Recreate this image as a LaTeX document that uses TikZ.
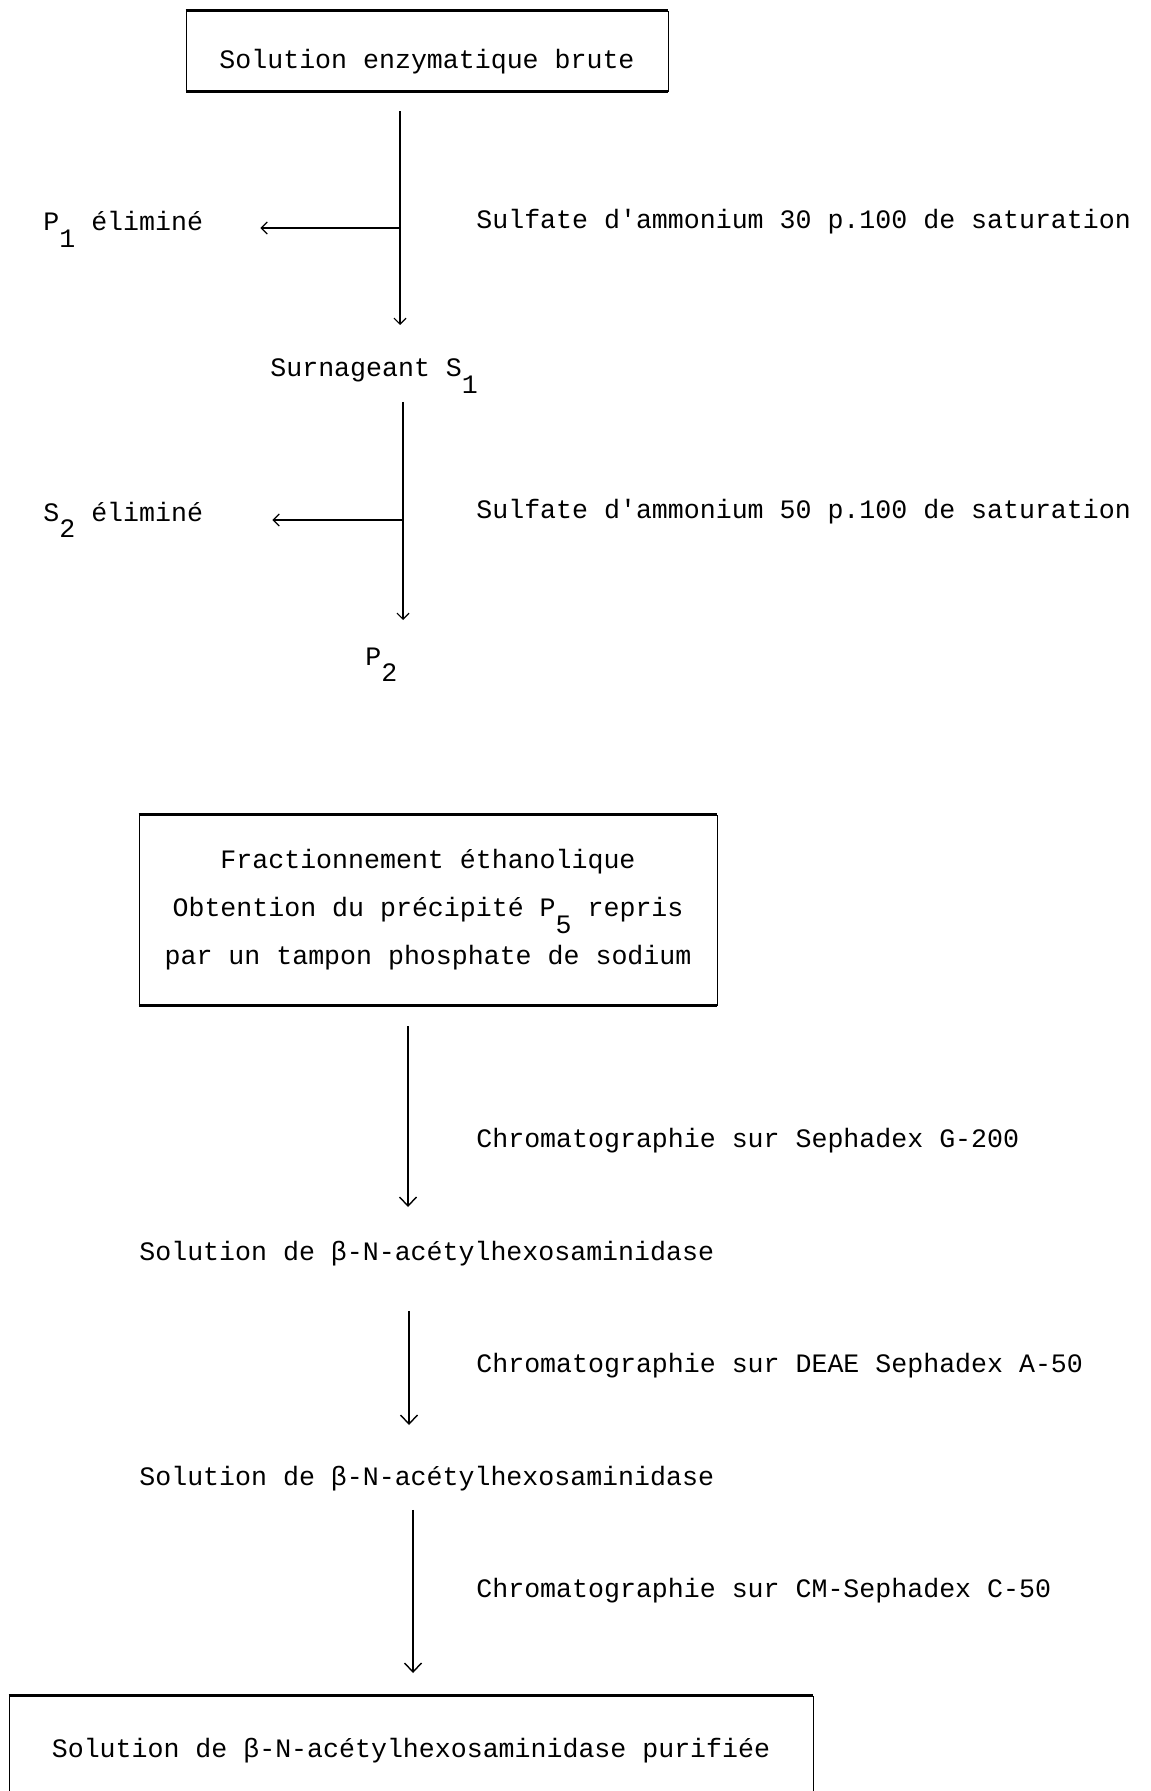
\documentclass[tikz,border=0pt]{standalone}
\usepackage{fontspec}
\newfontfamily\machine{Liberation Mono}
\usetikzlibrary{arrows.meta}
\newcommand\bas[1]{\raisebox{-0.62em}{#1}}

\begin{document}
\begin{tikzpicture}[x=0.5pt, y=-0.5pt,
                    every node/.style={font=\machine\fontsize{13.3pt}{24pt}\selectfont, inner sep=0pt},
                    texte/.style={anchor=base west},
                    boite/.style={draw, line width=0.4pt, align=center},
                    fleche/.style={line width=0.6pt, -{Straight Barb[length=3pt,width=6pt]}},
                    grandefleche/.style={line width=0.7pt, -{Straight Barb[length=4.5pt,width=8.5pt]}}
                    ]
                    \useasboundingbox (0,0) rectangle (1150,1791);
                    \fill[white] (0,0) rectangle (1150,1791);

                    \node[boite, minimum width=241pt, text height=28.9pt, text depth=11.1pt] (brut) at (427,51) {Solution enzymatique brute};
                    \node[texte] (elim1) at (43,231) {P\bas{1} éliminé};
                    \node[texte] (sulf1) at (476,229) {Sulfate d'ammonium 30 p.100 de saturation};
                    \node[texte] (surn) at (270,377) {Surnageant S\bas{1}};
                    \node[texte] (elim2) at (43,521) {S\bas{2} éliminé};
                    \node[texte] (sulf2) at (476,518) {Sulfate d'ammonium 50 p.100 de saturation};
                    \node[texte] (p2) at (365,665) {P\bas{2}};
                    \node[boite, minimum width=289pt, minimum height=95pt] (frac) at (428,910) {Fractionnement éthanolique\\Obtention du précipité P\bas{5} repris\\par un tampon phosphate de sodium};
                    \node[texte] (chro1) at (476,1147) {Chromatographie sur Sephadex G-200};
                    \node[texte] (sol1) at (139,1260) {Solution de β-N-acétylhexosaminidase};
                    \node[texte] (chro2) at (476,1372) {Chromatographie sur DEAE Sephadex A-50};
                    \node[texte] (sol2) at (139,1485) {Solution de β-N-acétylhexosaminidase};
                    \node[texte] (chro3) at (476,1597) {Chromatographie sur CM-Sephadex C-50};
                    \node[boite, minimum width=402pt, minimum height=55pt] (purif) at (411,1751) {Solution de β-N-acétylhexosaminidase purifiée};

                    % bords epais des boites
                    \foreach \bx in {brut, frac, purif}{
                        \draw[line width=1.3pt] (\bx.north west) -- (\bx.north east);
                        \draw[line width=1.3pt] (\bx.south west) -- (\bx.south east);
                    }

                    \coordinate (t1) at (400,325);
                    \coordinate (t2) at (403,620);
                    \coordinate (t3) at (408,1207);
                    \coordinate (t4) at (409,1425);
                    \coordinate (t5) at (413,1673);
                    \coordinate (m1) at (400,228);
                    \coordinate (m2) at (403,520);

                    \foreach \a/\t/\s in {brut/t1/10pt, surn/t2/4pt}{
                        \draw[fleche, shorten <=\s] (\a.south -| \t) -- (\t);
                    }
                    \foreach \a/\t/\s in {frac/t3/10.5pt, sol1/t4/22.5pt, sol2/t5/9.5pt}{
                        \draw[grandefleche, shorten <=\s] (\a.south -| \t) -- (\t);
                    }
                    \foreach \m/\e/\s in {m1/elim1/28.5pt, m2/elim2/34.5pt}{
                        \draw[fleche, shorten >=\s] (\m) -- (\m -| \e.east);
                    }
                \end{tikzpicture}
\end{document}
